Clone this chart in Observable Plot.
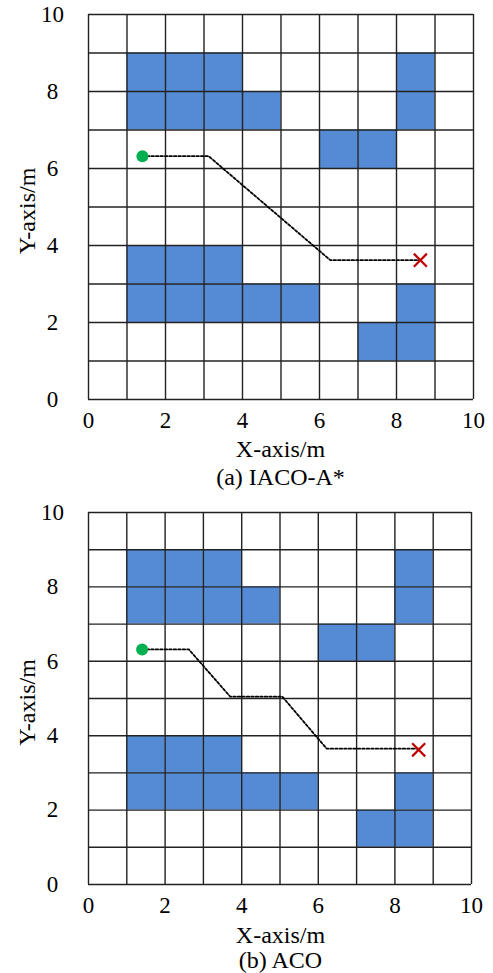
<!DOCTYPE html>
<html>
<head>
<meta charset="utf-8">
<script src="https://cdn.jsdelivr.net/npm/d3@7"></script>
<script src="https://cdn.jsdelivr.net/npm/@observablehq/plot@0.6"></script>
<style>
  body { margin: 0; background: #fff; }
  #wrap { position: relative; width: 493px; height: 973px; font-family: "Liberation Serif", "Times New Roman", serif; }
  #wrap svg { position: absolute; left: 0; overflow: visible; font-family: "Liberation Serif", "Times New Roman", serif !important; }
  #wrap svg text { font-family: "Liberation Serif", "Times New Roman", serif !important; }
  .cap { position: absolute; left: 88px; width: 385px; text-align: center; font-size: 24px; color: #000; line-height: 24px; font-family: "Liberation Serif", "Times New Roman", serif; white-space: nowrap; }
</style>
</head>
<body>
<div id="wrap"></div>
<script>
// Map extent and tick labels (metres)
const gridLines = [0, 1, 2, 3, 4, 5, 6, 7, 8, 9, 10];
const tickValues = [0, 2, 4, 6, 8, 10];

// Obstacle cells, given by their lower-left corner
const obstacleX = [1, 2, 3, 8, 1, 2, 3, 4, 8, 6, 7, 1, 2, 3, 1, 2, 3, 4, 5, 8, 7, 8];
const obstacleY = [8, 8, 8, 8, 7, 7, 7, 7, 7, 6, 6, 3, 3, 3, 2, 2, 2, 2, 2, 2, 1, 1];

// Start and goal positions
const startPoint = [1.4, 6.32];
const goalPoint = [8.62, 3.62];

// Planned path of IACO-A*
const pathAX = [1.4, 3.12, 6.28, 8.62];
const pathAY = [6.32, 6.32, 3.62, 3.62];

// Planned path of ACO
const pathBX = [1.4, 2.62, 3.7, 5.06, 6.22, 8.62];
const pathBY = [6.32, 6.32, 5.05, 5.05, 3.65, 3.65];

const obstacles = obstacleX.map((x, i) => ({x1: x, x2: x + 1, y1: obstacleY[i], y2: obstacleY[i] + 1}));
const serif = "'Liberation Serif', 'Times New Roman', serif";

function panel(px, py, opts) {
  const path = px.map((x, i) => ({x, y: py[i]}));
  return Plot.plot({
    width: 493,
    height: opts.height,
    marginTop: 14,
    marginLeft: 88,
    marginRight: opts.marginRight,
    marginBottom: 62,
    style: {fontFamily: serif, fontSize: "23px", color: "#000", background: "transparent"},
    x: {domain: [0, 10]},
    y: {domain: [0, 10]},
    marks: [
      Plot.rect(obstacles, {x1: "x1", x2: "x2", y1: "y1", y2: "y2", fill: "#558bd4"}),
      Plot.gridX(gridLines, {stroke: "#222", strokeOpacity: 1, strokeWidth: 1.4}),
      Plot.gridY(gridLines, {stroke: "#222", strokeOpacity: 1, strokeWidth: 1.4}),
      Plot.axisX(tickValues, {tickSize: 0, tickPadding: 12, fontSize: 23, fontFamily: serif, label: null}),
      Plot.axisY(tickValues, {tickSize: 0, tickPadding: 36, textAnchor: "middle", fontSize: 23, fontFamily: serif, label: null}),
      Plot.text(["Y-axis/m"], {frameAnchor: "left", dx: -61, dy: opts.labelDy, rotate: -90, textAnchor: "middle", lineAnchor: "middle", fontSize: 24, fontFamily: serif, fill: "#000"}),
      Plot.line(path, {x: "x", y: "y", stroke: "#000", strokeWidth: 1.8, strokeDasharray: "2.5,2"}),
      Plot.dot([startPoint], {x: d => d[0], y: d => d[1], r: 6, fill: "#00b050", stroke: "none"}),
      Plot.dot([goalPoint], {x: d => d[0], y: d => d[1], r: 6, symbol: "times", stroke: "#c00000", strokeWidth: 2.2})
    ]
  });
}

const wrap = document.getElementById("wrap");

function caption(text, top) {
  const div = document.createElement("div");
  div.className = "cap";
  div.style.top = top + "px";
  div.textContent = text;
  wrap.appendChild(div);
}

const svgA = panel(pathAX, pathAY, {height: 461, marginRight: 20, labelDy: 4});
svgA.style.top = "0px";
wrap.appendChild(svgA);
caption("X-axis/m", 437);
caption("(a) IACO-A*", 465);

const svgB = panel(pathBX, pathBY, {height: 448, marginRight: 22, labelDy: 4});
svgB.style.top = "498px";
wrap.appendChild(svgB);
caption("X-axis/m", 923);
caption("(b) ACO", 948);
</script>
</body>
</html>
